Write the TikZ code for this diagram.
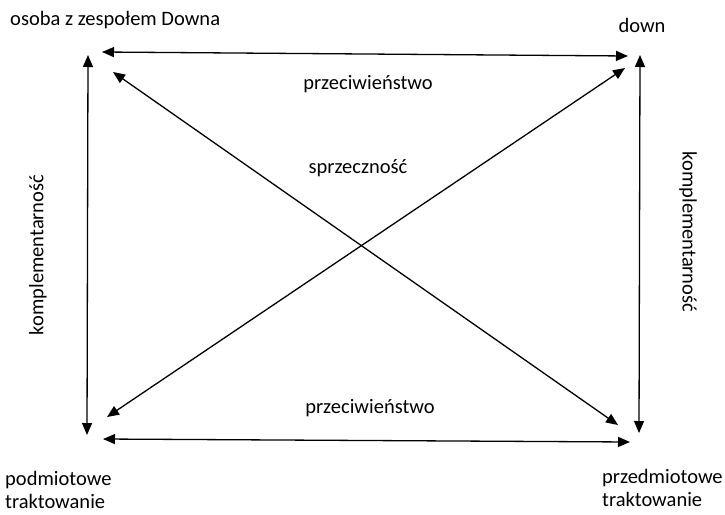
\documentclass[tikz,border=0pt]{standalone}
\usepackage{fontspec}
\setmainfont{Carlito}
\usetikzlibrary{arrows.meta}

\begin{document}
\begin{tikzpicture}[x=1pt, y=-1pt, font=\fontsize{20.5}{23}\selectfont,
  rel/.style={line width=1.3pt, {Triangle[length=12pt,width=10pt]}-{Triangle[length=12pt,width=10pt]}}]
\useasboundingbox (0,0) rectangle (725,514);

% corners
\node[anchor=west, inner sep=0pt] (osoba) at (10,20) {osoba z zespołem Downa};
\node (down) at (642,25) {down};
\node[anchor=north west, align=left, inner sep=0pt] (podm) at (5,471) {podmiotowe\\traktowanie};
\node[anchor=north west, align=left, inner sep=0pt] (przedm) at (602,469) {przedmiotowe\\traktowanie};

% arrow ends
\coordinate (tlh) at (102,52);  \coordinate (trh) at (628,56);
\coordinate (tlv) at (88,55);   \coordinate (blv) at (87,435);
\coordinate (trv) at (640,55);  \coordinate (brv) at (639,433);
\coordinate (blh) at (103,439); \coordinate (brh) at (630,442);
\coordinate (tld) at (113,72);  \coordinate (brd) at (618,425);
\coordinate (trd) at (625,68);  \coordinate (bld) at (107,417);

\draw[rel] (tlh) -- (trh);
\draw[rel] (blh) -- (brh);
\draw[rel] (tlv) -- (blv);
\draw[rel] (trv) -- (brv);
\draw[rel] (tld) -- (brd);
\draw[rel] (trd) -- (bld);

\node (przecT) at (368,84) {przeciwieństwo};
\node (sprz) at (358,168) {sprzeczność};
\node (przecB) at (370,408) {przeciwieństwo};
\node[rotate=90] (kompL) at (38,255) {komplementarność};
\node[rotate=-90] (kompR) at (688,232) {komplementarność};
\end{tikzpicture}
\end{document}
